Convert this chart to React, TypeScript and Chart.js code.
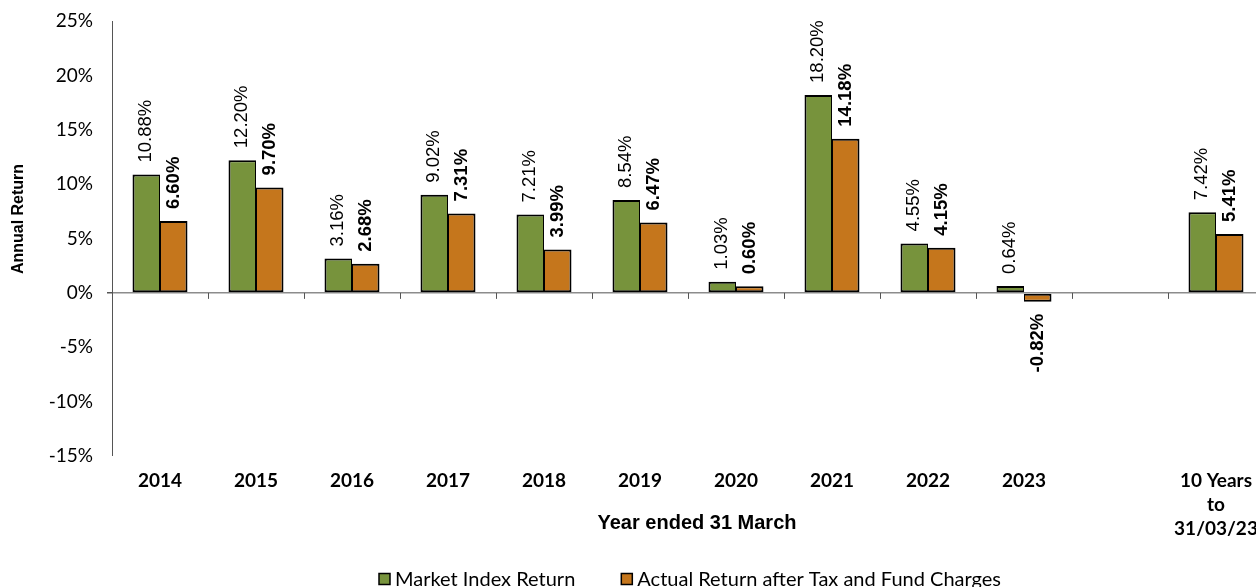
import React, { useEffect, useRef } from 'react';
import { Chart, registerables } from 'chart.js';

Chart.register(...registerables);

const categories: (string | string[])[] = ['2014', '2015', '2016', '2017', '2018', '2019', '2020', '2021', '2022', '2023', '', ['10 Years', 'to', '31/03/23']];
const marketIndexReturn: (number | null)[] = [10.88, 12.2, 3.16, 9.02, 7.21, 8.54, 1.03, 18.2, 4.55, 0.64, null, 7.42];
const actualReturn: (number | null)[] = [6.6, 9.7, 2.68, 7.31, 3.99, 6.47, 0.6, 14.18, 4.15, -0.82, null, 5.41];
const seriesNames = ['Market Index Return', 'Actual Return after Tax and Fund Charges'];
const seriesColors = ['#77933C', '#C5761C'];
const yMin = -15;
const yMax = 25;
const yStep = 5;
const xTitle = 'Year ended 31 March';
const yTitle = 'Annual Return';

const CANVAS_W = 1264;
const CANVAS_H = 587;

const boundaryTicks = {
  id: 'boundaryTicks',
  beforeDatasetsDraw(chart: any) {
    const ctx = chart.ctx;
    const xs = chart.scales.x;
    const ys = chart.scales.y;
    const y0 = ys.getPixelForValue(0);
    ctx.save();
    ctx.strokeStyle = '#555';
    ctx.lineWidth = 1;
    for (let i = 1; i < categories.length; i++) {
      const bx = Math.round((xs.getPixelForValue(i - 1) + xs.getPixelForValue(i)) / 2) + 0.5;
      ctx.beginPath();
      ctx.moveTo(bx, y0);
      ctx.lineTo(bx, y0 + 6);
      ctx.stroke();
    }
    ctx.restore();
  },
};

const barLabels = {
  id: 'barLabels',
  afterDatasetsDraw(chart: any) {
    const ctx = chart.ctx;
    chart.data.datasets.forEach((ds: any, di: number) => {
      const meta = chart.getDatasetMeta(di);
      meta.data.forEach((bar: any, i: number) => {
        const v = ds.data[i];
        if (v === null || v === undefined) return;
        const { x, y } = bar.getProps(['x', 'y'], true);
        ctx.save();
        ctx.font = di === 0 ? '18.5px "Liberation Sans"' : 'bold 18.5px "Liberation Sans"';
        ctx.fillStyle = '#000';
        ctx.textBaseline = 'middle';
        const gap = 12;
        if (v >= 0) {
          ctx.translate(x, y - gap);
          ctx.rotate(-Math.PI / 2);
          ctx.textAlign = 'left';
        } else {
          ctx.translate(x, y + gap);
          ctx.rotate(-Math.PI / 2);
          ctx.textAlign = 'right';
        }
        ctx.fillText(v.toFixed(2) + '%', 0, 0);
        ctx.restore();
      });
    });
  },
};

const titlesAndLegend = {
  id: 'titlesAndLegend',
  afterDraw(chart: any) {
    const ctx = chart.ctx;
    ctx.save();
    ctx.fillStyle = '#000';
    // y title
    ctx.font = 'bold 16px "Liberation Sans"';
    ctx.textAlign = 'center';
    ctx.textBaseline = 'middle';
    ctx.save();
    ctx.translate(19, 219);
    ctx.rotate(-Math.PI / 2);
    ctx.fillText(yTitle, 0, 0);
    ctx.restore();
    // x title
    ctx.font = 'bold 20px "Liberation Sans"';
    ctx.fillText(xTitle, 697, 523);
    // legend
    ctx.font = '20px Lato';
    const box = 11;
    const gapBoxText = 5;
    const gapItems = 46;
    const widths = seriesNames.map((n) => ctx.measureText(n).width);
    const total = widths.reduce((a, w) => a + box + gapBoxText + w, 0) + gapItems * (seriesNames.length - 1);
    let lx = 690 - total / 2;
    const ly = 579;
    ctx.textAlign = 'left';
    seriesNames.forEach((n, i) => {
      ctx.fillStyle = seriesColors[i];
      ctx.fillRect(lx, ly - box / 2, box, box);
      ctx.strokeStyle = '#000';
      ctx.lineWidth = 1.5;
      ctx.strokeRect(lx, ly - box / 2, box, box);
      ctx.fillStyle = '#000';
      ctx.fillText(n, lx + box + gapBoxText, ly + 1);
      lx += box + gapBoxText + widths[i] + gapItems;
    });
    ctx.restore();
  },
};

export default function App() {
  const ref = useRef<HTMLCanvasElement | null>(null);

  useEffect(() => {
    if (!ref.current) return;
    const chart = new Chart(ref.current, {
      type: 'bar',
      data: {
        labels: categories as any,
        datasets: [
          {
            label: seriesNames[0],
            data: marketIndexReturn,
            backgroundColor: seriesColors[0],
            borderColor: '#000',
            borderWidth: { top: 2, bottom: 2, left: 2, right: 1 },
            borderSkipped: false,
            categoryPercentage: 0.573,
            barPercentage: 1,
          },
          {
            label: seriesNames[1],
            data: actualReturn,
            backgroundColor: seriesColors[1],
            borderColor: '#000',
            borderWidth: { top: 2, bottom: 2, left: 1, right: 2 },
            borderSkipped: false,
            categoryPercentage: 0.573,
            barPercentage: 1,
          },
        ],
      },
      options: {
        responsive: false,
        animation: false,
        devicePixelRatio: 1,
        layout: { padding: { top: 21, left: 0, right: 0, bottom: 0 } },
        plugins: {
          legend: { display: false },
          tooltip: { enabled: false },
        },
        scales: {
          x: {
            type: 'category',
            offset: true,
            grid: { display: false, drawTicks: false },
            border: { display: false },
            ticks: {
              color: '#000',
              font: { family: 'Lato', size: 19, weight: 'bold', lineHeight: 1.26 },
              padding: 13,
              maxRotation: 0,
              autoSkip: false,
            },
            afterFit(scale: any) {
              scale.height = 131;
              scale.paddingLeft = 0;
              scale.paddingRight = 0;
            },
          },
          y: {
            min: yMin,
            max: yMax,
            ticks: {
              stepSize: yStep,
              color: '#000',
              font: { family: 'Lato', size: 19 },
              padding: 14,
              callback: (v: any) => v + '%',
            },
            grid: {
              color: (c: any) => (c.tick && c.tick.value === 0 ? '#8c8c8c' : 'rgba(0,0,0,0)'),
              lineWidth: (c: any) => (c.tick && c.tick.value === 0 ? 1.5 : 0),
              tickColor: '#555',
              tickLength: 5,
              drawTicks: true,
            },
            border: { display: true, color: '#555', width: 1 },
            afterFit(scale: any) {
              scale.width = 112;
              scale.paddingTop = 0;
              scale.paddingBottom = 0;
            },
          },
        },
      },
      plugins: [boundaryTicks, barLabels, titlesAndLegend],
    } as any);
    return () => chart.destroy();
  }, []);

  return (
    <div style={{ position: 'absolute', left: 0, top: 0, width: 1256, height: 587, overflow: 'hidden', background: '#fff' }}>
      <canvas ref={ref} width={CANVAS_W} height={CANVAS_H} style={{ display: 'block', width: CANVAS_W, height: CANVAS_H }} />
    </div>
  );
}
